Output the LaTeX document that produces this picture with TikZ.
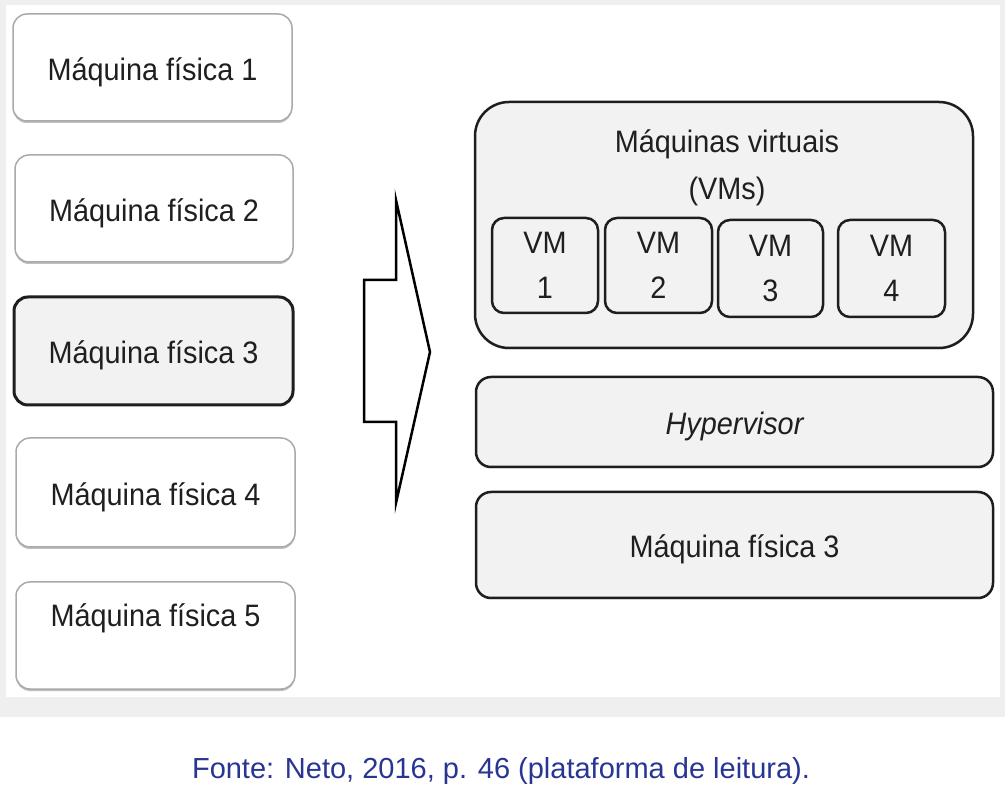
\documentclass[tikz,border=0pt]{standalone}
\usepackage{fontspec}
\setmainfont{Liberation Sans}
\newfontfamily\boxfont[FakeStretch=0.93]{Liberation Sans}
\usetikzlibrary{shadows}
\definecolor{boxfill}{RGB}{242,242,242}
\definecolor{pagegray}{RGB}{239,239,239}
\definecolor{softborder}{RGB}{170,170,170}
\definecolor{darkborder}{RGB}{30,30,30}
\definecolor{captionblue}{RGB}{40,53,147}
\tikzset{
  txt/.style={font=\boxfont\fontsize{31}{45}\selectfont, text=black!88, inner sep=0pt},
  centred/.style={text height=26pt, text depth=0pt},
  softbox/.style={txt, centred, draw=softborder, line width=1.5pt, fill=white, rounded corners=14pt,
    drop shadow={shadow xshift=0pt, shadow yshift=-2pt, opacity=0.25, fill=black}},
  hardbox/.style={txt, centred, draw=darkborder, line width=3pt, fill=boxfill, rounded corners=14pt},
  layerbox/.style={txt, centred, draw=darkborder, line width=2.5pt, fill=boxfill, rounded corners=15pt,
    drop shadow={shadow xshift=0pt, shadow yshift=-1.5pt, opacity=0.2, fill=black}},
  vmbox/.style={txt, draw=darkborder, line width=2.5pt, fill=boxfill, rounded corners=12pt, align=center},
  bigarrow/.style={draw=black, line width=2.5pt, fill=white, line join=miter}
}
\begin{document}
\begin{tikzpicture}[x=1pt,y=-1pt]
\useasboundingbox (0,0) rectangle (1005,791);
\fill[white] (0,0) rectangle (1005,791);
\fill[pagegray] (0,0) rectangle (1005,717);
\fill[white] (6,5) rectangle (1000,697);

% left column: physical machines
\node[softbox, minimum width=279pt, minimum height=107pt] (m1) at (152.5,67.5) {Máquina física 1};
\node[softbox, minimum width=278pt, minimum height=107pt] (m2) at (154,208.5) {Máquina física 2};
\node[hardbox, minimum width=279pt, minimum height=108pt] (m3) at (153.5,351) {Máquina física 3};
\node[softbox, minimum width=279pt, minimum height=109pt] (m4) at (155.5,492.5) {Máquina física 4};
\node[softbox, minimum width=279pt, minimum height=107pt, text depth=44pt] (m5) at (155.5,635.5) {Máquina física 5};

% big arrow
\draw[bigarrow] (396,200) -- (430,352) -- (396,503) -- (396,422) -- (364,422)
  -- (364,280) -- (396,280) -- cycle;

% right side: virtual machines
\node[layerbox, rounded corners=34pt, minimum width=498pt, minimum height=246pt] (vms) at (724,225) {};
\node[txt, anchor=base] (vmt1) at (727,153) {Máquinas virtuais};
\node[txt, anchor=base] (vmt2) at (727,200) {(VMs)};

\node[vmbox, minimum width=106pt, minimum height=95pt] (vm1) at (545,265.5) {VM\\1};
\node[vmbox, minimum width=107pt, minimum height=95pt] (vm2) at (658.5,265.5) {VM\\2};
\node[vmbox, minimum width=105pt, minimum height=97pt] (vm3) at (770.5,268.5) {VM\\3};
\node[vmbox, minimum width=107pt, minimum height=97pt] (vm4) at (891.5,268.5) {VM\\4};

\node[layerbox, minimum width=517pt, minimum height=90pt] (hyp) at (734.5,422) {\itshape Hypervisor};
\node[layerbox, minimum width=517pt, minimum height=106pt] (mf3r) at (734.5,545) {Máquina física 3};

% caption
\node[anchor=base, inner sep=0pt, text=captionblue, font=\fontsize{29}{34}\selectfont] (cap) at (501,778)
  {Fonte: Neto, 2016, p. 46 (plataforma de leitura).};
\end{tikzpicture}
\end{document}
